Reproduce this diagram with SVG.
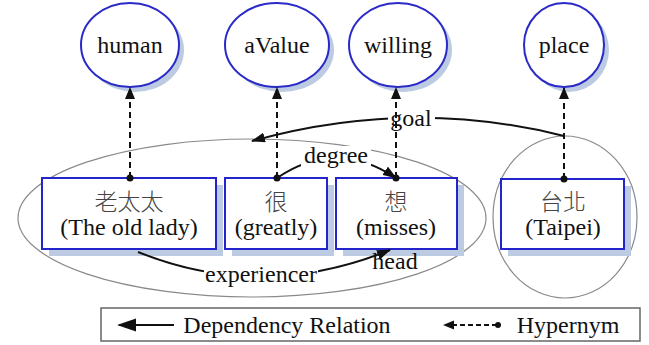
<svg xmlns="http://www.w3.org/2000/svg" width="649" height="345" viewBox="0 0 649 345">
<style>
.en{font-family:"Liberation Serif","Times New Roman",serif;font-size:24px;fill:#111;text-anchor:middle}
.zh{font-family:"Noto Sans CJK TC","Noto Sans CJK SC",sans-serif;font-size:23px;font-weight:300;fill:#444;text-anchor:middle}
.circ{fill:#fff;stroke:#2a2ac8;stroke-width:2}
.cshadow{fill:#bccbe2}
.box{fill:#fff;stroke:#2424cc;stroke-width:2}
.bshadow{fill:#bccbe2}
.grp{fill:none;stroke:#8a8a8a;stroke-width:1.2}
.dep{fill:none;stroke:#111;stroke-width:2}
.hyp{fill:none;stroke:#111;stroke-width:2;stroke-dasharray:6,4}
.lbl{fill:#fff}
</style>
<defs>
<marker id="ah" markerWidth="14" markerHeight="10" refX="13" refY="5" orient="auto" markerUnits="userSpaceOnUse">
<path d="M0,0 L14,5 L0,10 Z" fill="#111"/>
</marker>
<marker id="hh" markerWidth="12" markerHeight="10" refX="11" refY="5" orient="auto" markerUnits="userSpaceOnUse">
<path d="M0,0 L12,5 L0,10 Z" fill="#111"/>
</marker>
<marker id="dot" markerWidth="8" markerHeight="8" refX="4" refY="4" orient="auto" markerUnits="userSpaceOnUse">
<circle cx="4" cy="4" r="3.5" fill="#111"/>
</marker>
</defs>
<rect width="649" height="345" fill="#fff"/>

<g id="groupings">
<ellipse class="grp" cx="252" cy="218" rx="234" ry="79"/>
<ellipse class="grp" cx="565" cy="217" rx="72" ry="81"/>
</g>

<g id="human">
<ellipse class="cshadow" cx="135" cy="50" rx="49" ry="42"/>
<ellipse class="circ" cx="130" cy="45" rx="49" ry="42"/>
<text class="en" x="130" y="53">human</text>
</g>
<g id="aValue">
<ellipse class="cshadow" cx="282" cy="50" rx="52" ry="42"/>
<ellipse class="circ" cx="277" cy="45" rx="52" ry="42"/>
<text class="en" x="277" y="53">aValue</text>
</g>
<g id="willing">
<ellipse class="cshadow" cx="403" cy="50" rx="49" ry="42"/>
<ellipse class="circ" cx="398" cy="45" rx="49" ry="42"/>
<text class="en" x="398" y="53">willing</text>
</g>
<g id="place">
<ellipse class="cshadow" cx="569" cy="50" rx="40" ry="42"/>
<ellipse class="circ" cx="564" cy="45" rx="40" ry="42"/>
<text class="en" x="564" y="53">place</text>
</g>

<g id="old_lady">
<rect class="bshadow" x="49" y="185" width="174" height="71"/>
<rect class="box" x="42" y="178" width="174" height="71"/>
<text class="zh" x="129" y="210">老太太</text>
<text class="en" x="129" y="235">(The old lady)</text>
</g>
<g id="greatly">
<rect class="bshadow" x="232" y="185" width="102" height="71"/>
<rect class="box" x="225" y="178" width="102" height="71"/>
<text class="zh" x="276" y="210">很</text>
<text class="en" x="276" y="235">(greatly)</text>
</g>
<g id="misses">
<rect class="bshadow" x="343" y="185" width="121" height="71"/>
<rect class="box" x="336" y="178" width="121" height="71"/>
<text class="zh" x="396" y="210">想</text>
<text class="en" x="396" y="235">(misses)</text>
</g>
<g id="taipei">
<rect class="bshadow" x="508" y="186" width="123" height="70"/>
<rect class="box" x="501" y="179" width="123" height="70"/>
<text class="zh" x="563" y="210">台北</text>
<text class="en" x="563" y="235">(Taipei)</text>
</g>

<g id="connectors">
<path class="dep" d="M564,136 Q410,97 252,141" marker-end="url(#ah)"/>
<path class="dep" d="M277,178 Q336,138 396,178" marker-end="url(#ah)"/>
<path class="dep" d="M138,252 Q262,302 390,250" marker-end="url(#ah)"/>
<rect class="lbl" x="301" y="146" width="70" height="21"/>
<text class="en" x="336" y="163">degree</text>
<rect class="lbl" x="388" y="109" width="47" height="21"/>
<text class="en" x="411" y="126">goal</text>
<rect class="lbl" x="204" y="267" width="114" height="20"/>
<text class="en" x="261" y="282">experiencer</text>
<text class="en" x="395" y="269">head</text>
<path class="hyp" d="M130,178 V88" marker-start="url(#dot)" marker-end="url(#hh)"/>
<path class="hyp" d="M277,178 V88" marker-start="url(#dot)" marker-end="url(#hh)"/>
<path class="hyp" d="M396,178 V88" marker-start="url(#dot)" marker-end="url(#hh)"/>
<path class="hyp" d="M564,179 V88" marker-start="url(#dot)" marker-end="url(#hh)"/>
</g>

<g id="legend">
<rect x="101" y="308" width="539" height="33" fill="#fff" stroke="#666" stroke-width="1.5"/>
<path d="M119,325 L174,325" stroke="#111" stroke-width="2"/>
<path d="M117,325 L136,318.5 L136,331.5 Z" fill="#111"/>
<text class="en" x="287" y="333">Dependency Relation</text>
<path d="M452,325 L497,325" stroke="#111" stroke-width="2" stroke-dasharray="5,3"/>
<path d="M443,325 L454,320.5 L454,329.5 Z" fill="#111"/>
<circle cx="498" cy="325" r="3" fill="#111"/>
<text class="en" x="568" y="333">Hypernym</text>
</g>
</svg>
